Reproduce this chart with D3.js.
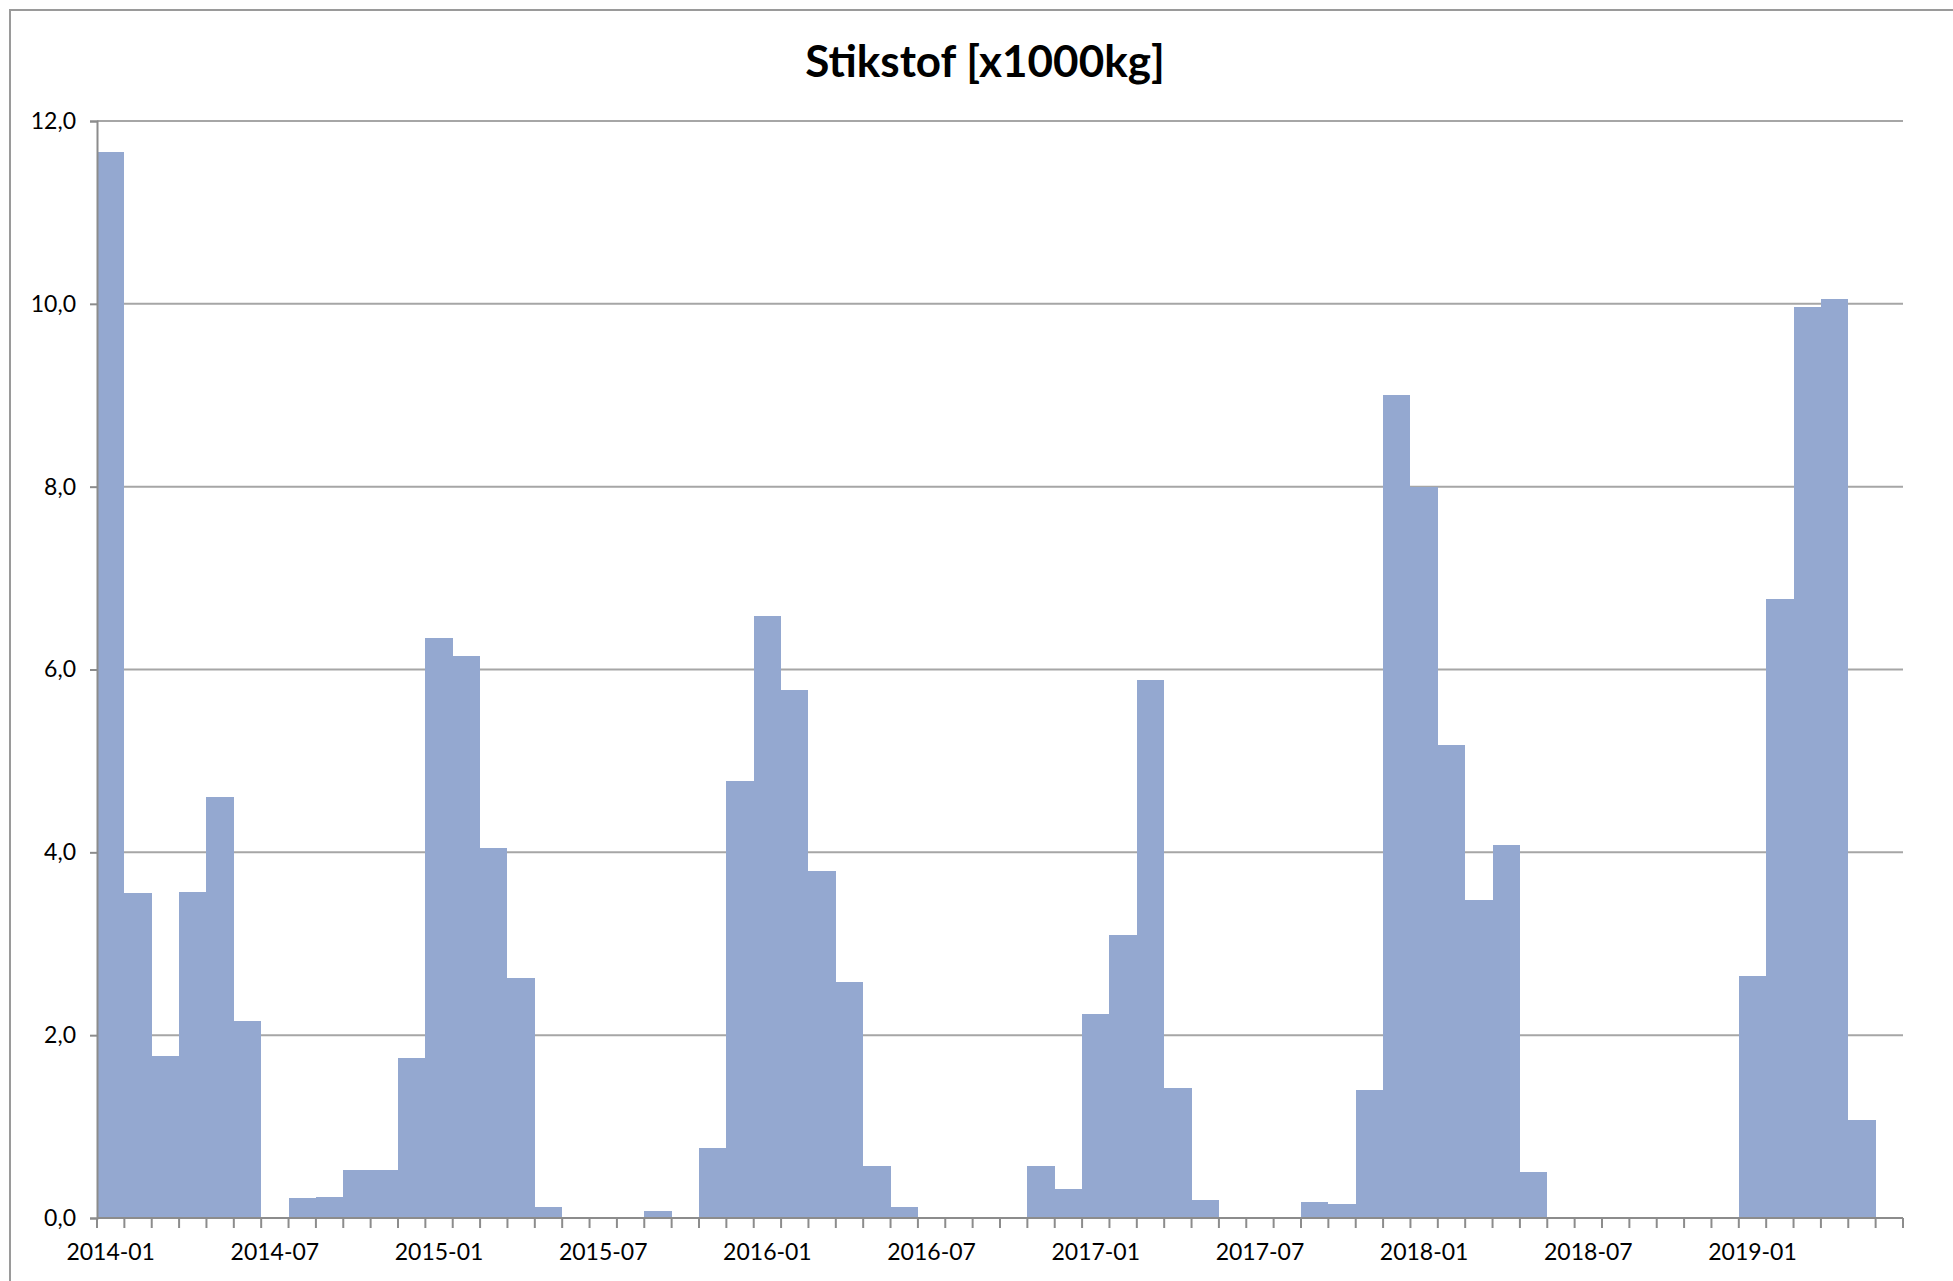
<!DOCTYPE html>
<html><head><meta charset="utf-8">
<script src="https://cdn.jsdelivr.net/npm/d3@7/dist/d3.min.js"></script>
<style>html,body{margin:0;padding:0;background:#fff;overflow:hidden;} svg{display:block;}</style>
</head><body><svg id="chart" width="1953" height="1281"></svg>
<script>
const title = "Stikstof [x1000kg]";
const months = [
 "2014-01","2014-02","2014-03","2014-04","2014-05","2014-06","2014-07","2014-08","2014-09","2014-10","2014-11","2014-12",
 "2015-01","2015-02","2015-03","2015-04","2015-05","2015-06","2015-07","2015-08","2015-09","2015-10","2015-11","2015-12",
 "2016-01","2016-02","2016-03","2016-04","2016-05","2016-06","2016-07","2016-08","2016-09","2016-10","2016-11","2016-12",
 "2017-01","2017-02","2017-03","2017-04","2017-05","2017-06","2017-07","2017-08","2017-09","2017-10","2017-11","2017-12",
 "2018-01","2018-02","2018-03","2018-04","2018-05","2018-06","2018-07","2018-08","2018-09","2018-10","2018-11","2018-12",
 "2019-01","2019-02","2019-03","2019-04","2019-05","2019-06"];
const values = [
 11.66, 3.55, 1.77, 3.57, 4.60, 2.15, 0, 0.22, 0.23, 0.52, 0.52, 1.75,
 6.35, 6.15, 4.05, 2.62, 0.12, 0, 0, 0, 0.08, 0, 0.77, 4.78,
 6.58, 5.78, 3.80, 2.58, 0.57, 0.12, 0, 0, 0, 0, 0.57, 0.32,
 2.23, 3.10, 5.88, 1.42, 0.20, 0, 0, 0, 0.18, 0.15, 1.40, 9.00,
 8.00, 5.17, 3.48, 4.08, 0.50, 0, 0, 0, 0, 0, 0, 0,
 2.65, 6.77, 9.97, 10.05, 1.07, 0];
const xLabels = ["2014-01","2014-07","2015-01","2015-07","2016-01","2016-07","2017-01","2017-07","2018-01","2018-07","2019-01"];
const yTicks = [0, 2, 4, 6, 8, 10, 12];

const FONT = "Lato, 'Open Sans', sans-serif";
const svg = d3.select("#chart");
const L = 97, R = 1903, T = 121, B = 1218;

const x = d3.scaleBand().domain(months).range([L, R]).padding(0);
const y = d3.scaleLinear().domain([0, 12]).range([B, T]);
const fmt = d => d.toFixed(1).replace(".", ",");

// outer frame (cropped at right/bottom)
svg.append("path").attr("d", `M10,1300 L10,10 L1960,10`)
  .attr("fill", "none").attr("stroke", "#9a9a9a").attr("stroke-width", 2);

// title
svg.append("text").attr("x", 985).attr("y", 77).attr("text-anchor", "middle")
  .attr("font-family", FONT).attr("font-weight", "bold").attr("font-size", 44)
  .attr("fill", "#000").text(title);

// gridlines
svg.append("g").selectAll("line").data(yTicks.filter(d => d > 0)).join("line")
  .attr("x1", L).attr("x2", R).attr("y1", d => y(d)).attr("y2", d => y(d))
  .attr("stroke", "#a6a6a6").attr("stroke-width", 2);

// bars
svg.append("g").selectAll("rect").data(months).join("rect")
  .attr("x", d => x(d)).attr("width", x.bandwidth())
  .attr("y", (d, i) => y(values[i])).attr("height", (d, i) => y(0) - y(values[i]))
  .attr("fill", "#94a8d0").attr("shape-rendering", "crispEdges");

// y axis
const yAxis = svg.append("g").attr("transform", `translate(${L},0)`)
  .call(d3.axisLeft(y).tickValues(yTicks).tickFormat(fmt).tickSize(7).tickPadding(14));
yAxis.select(".domain").attr("stroke", "#8c8c8c").attr("stroke-width", 2);
yAxis.selectAll(".tick line").attr("stroke", "#8c8c8c").attr("stroke-width", 2);
yAxis.selectAll("text").attr("font-family", FONT).attr("font-size", 23).attr("fill", "#000");

// x axis baseline + month ticks
const bounds = months.map(m => x(m)).concat([R]);
svg.append("line").attr("x1", L).attr("x2", R).attr("y1", B).attr("y2", B)
  .attr("stroke", "#8c8c8c").attr("stroke-width", 2);
svg.append("g").selectAll("line").data(bounds).join("line")
  .attr("x1", d => d).attr("x2", d => d).attr("y1", B).attr("y2", B + 10)
  .attr("stroke", "#8c8c8c").attr("stroke-width", 2);
svg.append("g").selectAll("text").data(xLabels).join("text")
  .attr("x", d => x(d) + x.bandwidth() / 2).attr("y", B + 42)
  .attr("text-anchor", "middle").attr("font-family", FONT).attr("font-size", 23)
  .attr("fill", "#000").text(d => d);
</script></body></html>
